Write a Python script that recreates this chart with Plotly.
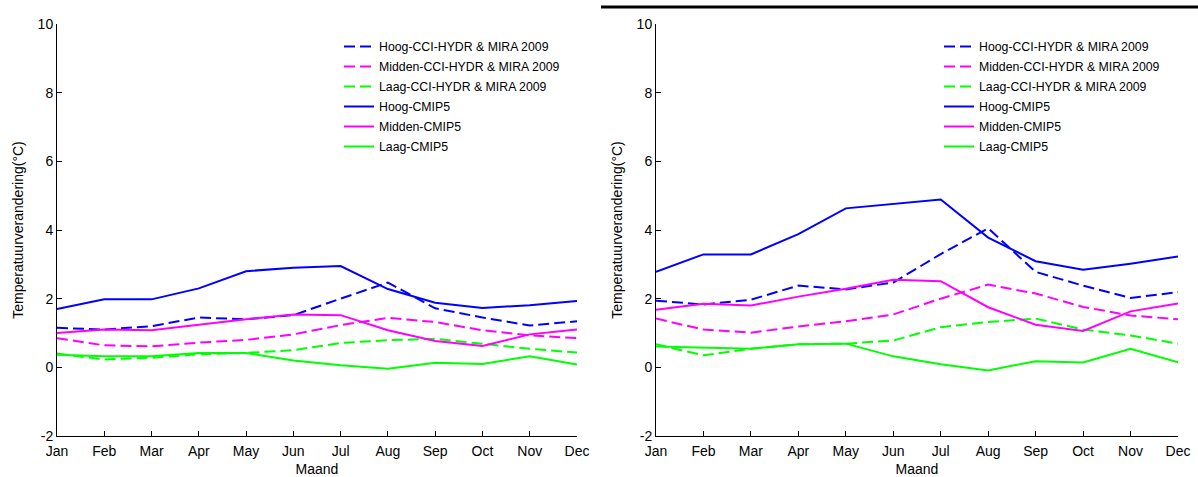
import plotly.graph_objects as go

months = ["Jan", "Feb", "Mar", "Apr", "May", "Jun", "Jul", "Aug", "Sep", "Oct", "Nov", "Dec"]
y_ticks = [-2, 0, 2, 4, 6, 8, 10]
y_tick_labels = ["-2", "0", "2", "4", "6", "8", "10"]

# Linker paneel
left_hoog_cci = [1.15, 1.10, 1.20, 1.45, 1.40, 1.52, 2.00, 2.47, 1.72, 1.45, 1.22, 1.34]
left_midden_cci = [0.85, 0.64, 0.61, 0.72, 0.80, 0.96, 1.23, 1.44, 1.32, 1.08, 0.93, 0.85]
left_laag_cci = [0.40, 0.23, 0.28, 0.38, 0.42, 0.50, 0.71, 0.79, 0.83, 0.68, 0.54, 0.43]
left_hoog_cmip5 = [1.70, 1.98, 1.98, 2.30, 2.80, 2.90, 2.95, 2.28, 1.88, 1.73, 1.81, 1.93]
left_midden_cmip5 = [1.00, 1.10, 1.08, 1.25, 1.40, 1.54, 1.52, 1.08, 0.77, 0.62, 0.96, 1.10]
left_laag_cmip5 = [0.37, 0.32, 0.32, 0.42, 0.42, 0.20, 0.06, -0.04, 0.13, 0.10, 0.32, 0.08]

# Rechter paneel
right_hoog_cci = [1.94, 1.83, 1.97, 2.38, 2.27, 2.47, 3.30, 4.05, 2.78, 2.38, 2.02, 2.19]
right_midden_cci = [1.42, 1.10, 1.01, 1.19, 1.34, 1.54, 2.00, 2.41, 2.15, 1.76, 1.51, 1.40]
right_laag_cci = [0.67, 0.35, 0.54, 0.67, 0.69, 0.78, 1.17, 1.32, 1.42, 1.10, 0.93, 0.69]
right_hoog_cmip5 = [2.78, 3.29, 3.29, 3.88, 4.63, 4.76, 4.89, 3.78, 3.09, 2.84, 3.02, 3.23]
right_midden_cmip5 = [1.68, 1.85, 1.80, 2.06, 2.29, 2.55, 2.51, 1.75, 1.24, 1.06, 1.63, 1.86]
right_laag_cmip5 = [0.61, 0.57, 0.54, 0.67, 0.69, 0.32, 0.09, -0.09, 0.18, 0.14, 0.54, 0.15]

names = [
    "Hoog-CCI-HYDR & MIRA 2009",
    "Midden-CCI-HYDR & MIRA 2009",
    "Laag-CCI-HYDR & MIRA 2009",
    "Hoog-CMIP5",
    "Midden-CMIP5",
    "Laag-CMIP5",
]
colors = ["#0000FF", "#FF00FF", "#00FF00", "#0000FF", "#FF00FF", "#00FF00"]
dashes = ["11px,5px", "11px,5px", "11px,5px", "solid", "solid", "solid"]

panels = [
    ("x", "y", "legend", [left_hoog_cci, left_midden_cci, left_laag_cci,
                          left_hoog_cmip5, left_midden_cmip5, left_laag_cmip5]),
    ("x2", "y2", "legend2", [right_hoog_cci, right_midden_cci, right_laag_cci,
                             right_hoog_cmip5, right_midden_cmip5, right_laag_cmip5]),
]

FONT = "Liberation Sans, Arial, sans-serif"
W, H = 1198, 477

fig = go.Figure()
for xa, ya, leg, series in panels:
    for i, vals in enumerate(series):
        fig.add_trace(go.Scatter(
            x=months, y=vals, mode="lines", name=names[i],
            line=dict(color=colors[i], width=2, dash=dashes[i]),
            xaxis=xa, yaxis=ya, legend=leg, legendgroup=f"{leg}_{i}",
        ))

y_dom = [1 - 436 / H, 1 - 24 / H]
axis_common = dict(
    showline=True, linecolor="black", linewidth=1, mirror=False,
    ticks="inside", ticklen=5, tickcolor="black", showgrid=False, zeroline=False,
    tickfont=dict(family=FONT, size=14, color="black"), automargin=False,
)
xaxis_common = dict(axis_common, type="category", range=[0, 11], ticklabelstandoff=2,
                    title=dict(text="Maand", font=dict(family=FONT, size=14, color="black"), standoff=6))
yaxis_common = dict(axis_common, range=[-2, 10], tickvals=y_ticks, ticktext=y_tick_labels,
                    title=dict(text="Temperatuurverandering(°C)",
                               font=dict(family=FONT, size=14, color="black"), standoff=10))

legend_common = dict(
    bgcolor="rgba(0,0,0,0)", borderwidth=0, traceorder="grouped", tracegroupgap=1,
    font=dict(family=FONT, size=12.3, color="black"), xanchor="left", yanchor="top",
)

fig.update_layout(
    width=W, height=H, margin=dict(l=0, r=0, t=0, b=0),
    paper_bgcolor="white", plot_bgcolor="white", showlegend=True,
    xaxis=dict(xaxis_common, domain=[57 / W, 577 / W], anchor="y"),
    yaxis=dict(yaxis_common, domain=y_dom, anchor="x"),
    xaxis2=dict(xaxis_common, domain=[656 / W, 1178 / W], anchor="y2"),
    yaxis2=dict(yaxis_common, domain=y_dom, anchor="x2"),
    legend=dict(legend_common, x=339 / W, y=1 - 32 / H),
    legend2=dict(legend_common, x=939 / W, y=1 - 32 / H),
    shapes=[dict(type="line", xref="paper", yref="paper",
                 x0=601 / W, x1=1, y0=1 - 7 / H, y1=1 - 7 / H,
                 line=dict(color="black", width=3))],
)

fig.write_html("out.html")
